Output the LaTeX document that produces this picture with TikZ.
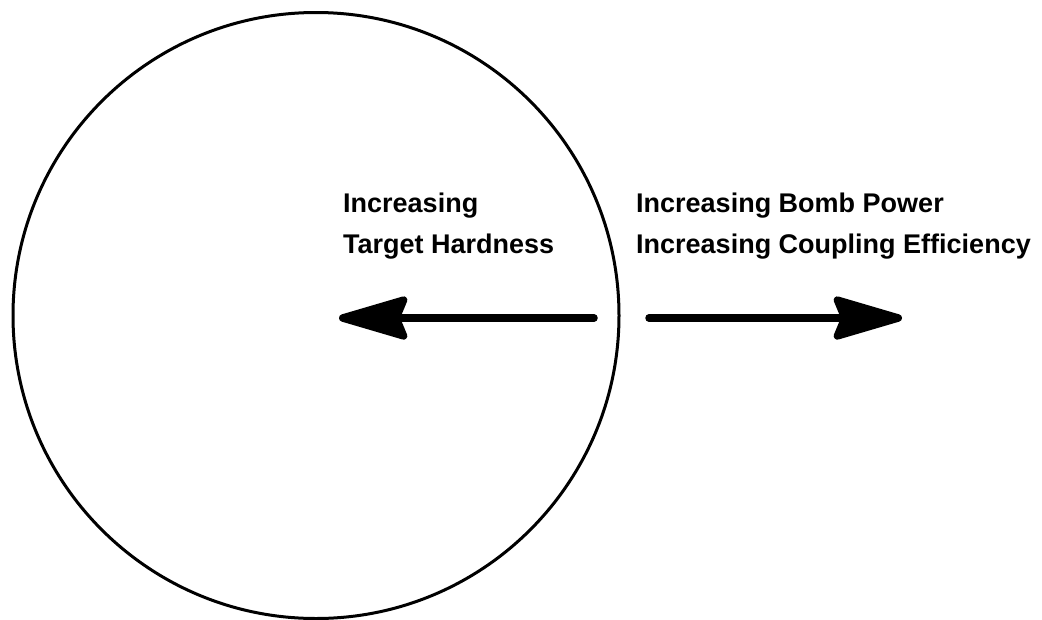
\documentclass[tikz,border=0pt]{standalone}
\usepackage{fontspec}
\setmainfont{Liberation Sans}
\usetikzlibrary{arrows.meta}
\begin{document}
\begin{tikzpicture}[x=1pt,y=-1pt,
  lbl/.style={anchor=base west,inner sep=0pt,font=\fontsize{27}{41}\selectfont\bfseries,align=left},
  bigarrow/.style={line width=7.5pt,line cap=round,-{Stealth[length=80pt,width=46pt,inset=9pt,round]}}]
\useasboundingbox (0,0) rectangle (1042,619);
\node[circle,draw,line width=3pt,minimum size=606pt,inner sep=0pt] (ring) at (316,315.5) {};
\node[lbl] (lefttxt) at (343,253) {Increasing\\Target Hardness};
\node[lbl] (righttxt) at (636,253) {Increasing Bomb Power\\Increasing Coupling Efficiency};
\coordinate (la) at (594,318);
\coordinate (lb) at (339,318);
\coordinate (ra) at (649,318);
\coordinate (rb) at (902,318);
\draw[bigarrow] (la) -- (lb);
\draw[bigarrow] (ra) -- (rb);
\end{tikzpicture}
\end{document}
